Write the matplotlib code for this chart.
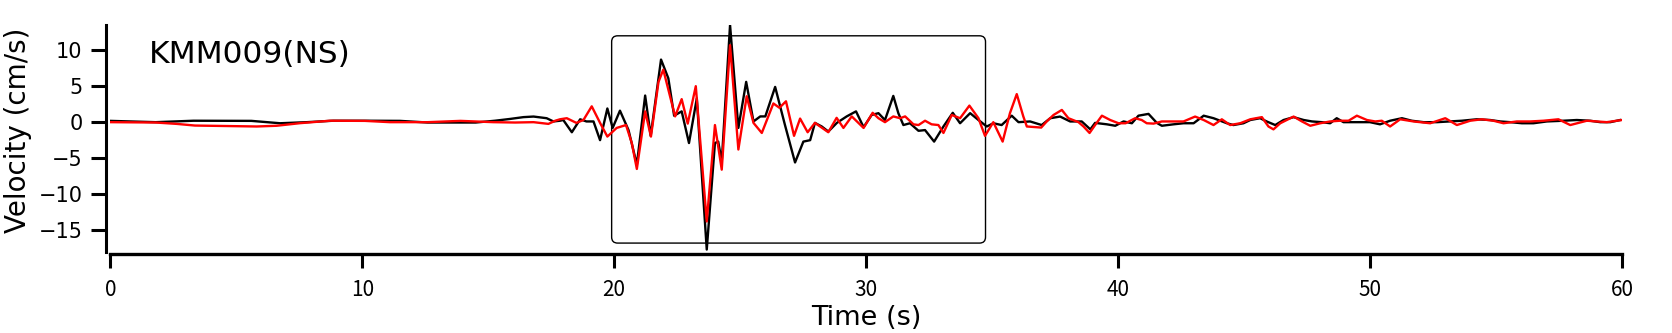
import numpy as np
import matplotlib
matplotlib.use("Agg")
import matplotlib.pyplot as plt
from matplotlib.patches import FancyBboxPatch

plt.rcParams['font.family'] = ['Noto Sans CJK JP', 'DejaVu Sans']

t_obs = [0.0, 1.8, 3.3, 5.6, 6.74, 7.8, 8.85, 10.2, 11.5, 12.6, 14.5, 15.27, 15.87, 16.4, 16.8,
         17.32, 17.59, 17.85, 17.98, 18.32, 18.65, 18.9, 19.18, 19.44, 19.73, 19.94, 20.23, 20.57,
         20.9, 21.23, 21.45, 21.86, 22.15, 22.38, 22.68, 22.97, 23.28, 23.675, 24.0, 24.13, 24.27,
         24.6, 24.93, 25.24, 25.53, 25.8, 26.0, 26.39, 26.78, 27.18, 27.51, 27.78, 27.97, 28.24,
         28.5, 28.84, 29.23, 29.6, 29.9, 30.22, 30.49, 30.75, 31.08, 31.28, 31.48, 31.74, 32.08,
         32.34, 32.7, 33.07, 33.44, 33.73, 34.13, 34.46, 34.79, 35.05, 35.38, 35.78, 36.05, 36.51,
         36.97, 37.31, 37.7, 38.1, 38.56, 38.9, 39.09, 39.56, 39.89, 40.22, 40.55, 40.81, 41.21,
         41.54, 41.74, 42.2, 42.6, 43.0, 43.4, 43.79, 44.32, 44.58, 44.98, 45.25, 45.64, 45.9,
         46.24, 46.57, 46.97, 47.37, 47.7, 48.09, 48.42, 48.68, 48.95, 49.47, 50.0, 50.4, 50.8,
         51.27, 51.66, 52.13, 52.66, 53.18, 53.65, 54.24, 54.77, 55.17, 55.57, 56.03, 56.49,
         57.02, 57.68, 58.21, 58.74, 59.14, 59.54, 59.93]
v_obs = [0.18, 0.0, 0.2, 0.18, -0.15, 0.0, 0.2, 0.2, 0.18, -0.05, -0.05, 0.2, 0.45, 0.7, 0.78,
         0.55, 0.1, 0.2, 0.3, -1.4, 0.4, 0.1, 0.1, -2.5, 1.9, -0.8, 1.6, -1.1,
         -5.9, 3.7, -1.9, 8.7, 6.1, 0.9, 1.5, -2.9, 3.3, -17.7, -2.9, -2.7, -5.5,
         13.5, -0.8, 5.6, 0.1, 0.8, 0.8, 4.9, -0.4, -5.6, -2.7, -2.5, -0.1, -0.6,
         -1.3, -0.1, 0.8, 1.5, -0.7, 1.0, 1.25, 0.3, 3.65, 1.25, -0.4, -0.15, -1.2,
         -1.1, -2.7, -0.6, 1.3, -0.15, 1.25, 0.3, -0.6, -0.15, -0.4, 0.9, 0.0, 0.1,
         -0.4, 0.55, 0.78, 0.1, 0.1, -1.0, -0.1, -0.3, -0.5, 0.1, -0.15, 0.9, 1.15,
         -0.1, -0.5, -0.3, -0.15, -0.15, 0.9, 0.55, -0.15, -0.4, -0.15, 0.3, 0.55, 0.1,
         -0.4, 0.3, 0.7, 0.3, 0.1, 0.0, -0.15, 0.55, 0.0, 0.0, 0.0, -0.3, 0.2,
         0.55, 0.2, 0.0, 0.0, 0.1, 0.2, 0.4, 0.3, 0.1, 0.0, -0.15, -0.15,
         0.1, 0.2, 0.3, 0.2, 0.0, 0.0, 0.3]

# simulated (red) trace
t_sim = [0.0, 1.8, 2.64, 3.36, 5.81, 6.6, 7.53, 8.72, 10.1, 11.1, 12.6, 13.9, 15.2, 16.07, 16.8,
         17.39, 17.66, 17.85, 18.12, 18.5, 18.78, 19.11, 19.44, 19.73, 20.1, 20.47, 20.7, 20.9,
         21.23, 21.46, 21.76, 21.95, 22.42, 22.68, 22.92, 23.24, 23.675, 24.0, 24.27, 24.6, 24.93,
         25.26, 25.53, 25.86, 26.32, 26.56, 26.82, 27.14, 27.38, 27.68, 27.97, 28.5, 28.83, 29.1,
         29.43, 29.9, 30.26, 30.49, 30.75, 31.08, 31.35, 31.55, 31.88, 32.08, 32.34, 32.6, 32.87,
         33.07, 33.4, 33.73, 34.1, 34.46, 34.72, 35.05, 35.42, 35.71, 35.98, 36.24, 36.38, 36.77,
         36.95, 37.17, 37.44, 37.77, 38.03, 38.43, 38.63, 38.87, 39.09, 39.36, 39.69, 40.02, 40.3,
         40.68, 40.94, 41.14, 41.41, 41.74, 42.2, 42.6, 43.06, 43.4, 43.79, 44.12, 44.45, 44.85,
         45.25, 45.71, 45.97, 46.17, 46.44, 46.97, 47.3, 47.63, 48.03, 48.42, 48.82, 49.15, 49.48,
         49.88, 50.21, 50.47, 50.8, 51.2, 51.73, 52.39, 52.99, 53.45, 53.98, 54.44, 54.9, 55.3,
         55.83, 56.36, 56.89, 57.48, 57.95, 58.61, 59.4, 60.0]
v_sim = [0.0, -0.05, -0.24, -0.47, -0.6, -0.5, -0.14, 0.2, 0.18, 0.0, 0.0, 0.18, 0.0, -0.05, 0.0,
         -0.24, 0.2, 0.4, 0.55, -0.1, 0.3, 2.2, -0.1, -2.0, -0.8, -0.4, -2.9, -6.5,
         1.5, -2.0, 5.6, 7.3, 0.8, 3.2, -0.2, 5.0, -13.8, -0.4, -6.6, 10.7, -3.8,
         3.6, -0.1, -1.5, 2.6, 2.0, 2.9, -1.9, 0.5, -1.4, -0.1, -1.4, 0.6, -0.8,
         0.8, -0.8, 1.3, 0.55, 0.0, 0.8, 0.55, 0.8, -0.3, -0.4, 0.2, -0.3, -0.4,
         -1.5, 1.0, 0.55, 2.3, 0.55, -1.9, 0.0, -2.7, 1.25, 3.9, 0.8, -0.6, -0.7,
         -0.75, 0.1, 1.0, 1.7, 0.55, 0.0, -0.6, -1.5, -0.4, 0.9, 0.3, -0.15, -0.15,
         0.55, 0.3, -0.15, -0.2, 0.1, 0.1, 0.1, 0.78, 0.3, -0.4, 0.4, -0.4, -0.15,
         0.4, 0.7, -0.6, -1.0, -0.15, 0.78, 0.1, -0.5, -0.15, 0.1, 0.2, 0.2, 0.9,
         0.3, 0.1, 0.2, -0.6, 0.4, 0.1, -0.15, 0.55, -0.4, 0.2, 0.4, 0.2, -0.15,
         0.1, 0.1, 0.2, 0.4, -0.4, 0.2, 0.0, 0.3]

x_ticks = [0, 10, 20, 30, 40, 50, 60]
y_ticks = [-15, -10, -5, 0, 5, 10]
station = "KMM009(NS)"
box_t = (19.9, 34.74)
box_v = (-16.8, 12.0)

fig = plt.figure(figsize=(16.72, 3.33), dpi=100)
ax = fig.add_axes([0.06597, 0.2441, 0.90406, 0.6808])

ax.plot(t_obs, v_obs, color='black', lw=1.7, solid_joinstyle='round')
ax.plot(t_sim, v_sim, color='red', lw=1.7, solid_joinstyle='round')

ax.set_xlim(0, 60)
ax.set_ylim(-18.0, 13.5)

# rounded window box
px_t = ax.bbox.width / 60.0
px_v = ax.bbox.height / 31.5
r = 6 / px_t
box = FancyBboxPatch((box_t[0], box_v[0]), box_t[1] - box_t[0], box_v[1] - box_v[0],
                     boxstyle="round,pad=0,rounding_size=%f" % r,
                     mutation_aspect=px_t / px_v, fc='none', ec='black', lw=1.0)
ax.add_patch(box)

ax.text(0.0256, 0.868, station, transform=ax.transAxes, fontsize=22.5, va='center', ha='left',
        family=['DejaVu Sans'])

for s in ['top', 'right']:
    ax.spines[s].set_visible(False)
ax.spines['left'].set_position(('outward', 2.9))
ax.spines['bottom'].set_position(('outward', 1.9))
ax.spines['left'].set_linewidth(2.2)
ax.spines['bottom'].set_linewidth(2.4)

ax.set_xticks(x_ticks)
ax.set_yticks(y_ticks)
ax.set_yticklabels(['\u221215', '\u221210', '\u22125', '0', '5', '10'], family=['DejaVu Sans'])
ax.tick_params(axis='x', direction='out', length=10, width=2.2, labelsize=15, pad=8)
ax.tick_params(axis='y', direction='out', length=11, width=2.2, labelsize=15, pad=6)

ax.set_xlabel('Time (s)', fontsize=19.5, va='center', family=['DejaVu Sans'])
ax.xaxis.set_label_coords(0.5, -0.292)
ax.set_ylabel('Velocity (cm/s)', fontsize=20, va='center', family=['DejaVu Sans'])
ax.yaxis.set_label_coords(-0.061, 0.537)

fig.savefig('out.png', dpi=100)
